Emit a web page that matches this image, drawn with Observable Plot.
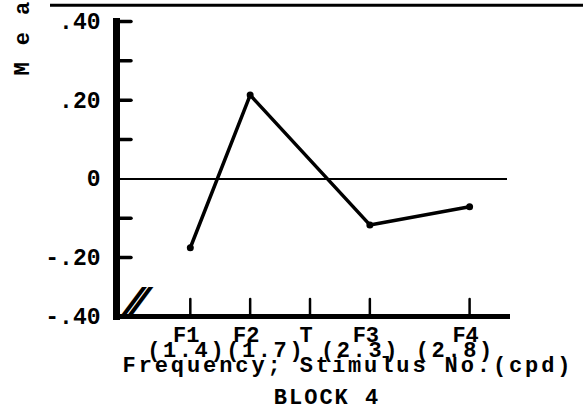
<!DOCTYPE html>
<html>
<head>
<meta charset="utf-8">
<script src="https://cdn.jsdelivr.net/npm/d3@7"></script>
<script src="https://cdn.jsdelivr.net/npm/@observablehq/plot@0.6"></script>
<style>
  html, body { margin: 0; padding: 0; background: #fff; }
  #chart svg { display: block; }
</style>
</head>
<body>
<div id="chart"></div>
<script>
// Stimulus positions (cpd) and names
const stimNames = ["F1", "F2", "T", "F3", "F4"];
const stimFreqs = [1.4, 1.7, 2.0, 2.3, 2.8];
// Cpd labels printed under the names
const cpdLabels = ["1.4", "1.7", "2.3", "2.8"];
// Plotted series (T has no point)
const seriesFreqs = [1.4, 1.7, 2.3, 2.8];
const seriesMeans = [-0.175, 0.213, -0.117, -0.071];
// Y tick values and labels
const yTickVals = [-0.4, -0.2, 0, 0.2, 0.4];
const yTickLabels = ["-.40", "-.20", "0", ".20", ".40"];
const yMinorTicks = [-0.2, -0.1, 0.1, 0.2, 0.3, 0.4];
// Remnant of the panel above (its bottom axis line)
const topRemnant = [0.441];
const yTitle = "Mean";
const xTitle = "Frequency; Stimulus No.(cpd)";
const blockTitle = "BLOCK 4";

const series = seriesFreqs.map((f, i) => ({freq: f, mean: seriesMeans[i]}));
const stims = stimFreqs.map((f, i) => ({freq: f, name: stimNames[i]}));
const cpdRow = `(${cpdLabels[0]})(${cpdLabels[1]}) (${cpdLabels[2]}) (${cpdLabels[3]})`;

// axis break below -.20: the segment -.20 .. -.40 is compressed
const breakAt = -0.2, breakFactor = 59 / 78.8;
const yTransform = (d) => (d < breakAt ? breakAt + (d - breakAt) * breakFactor : d);
const yTickPos = yTickVals.map(yTransform);

const font = "Liberation Mono, Courier New, monospace";
const FS = 22;

const chart = Plot.plot({
  width: 583,
  height: 417,
  marginLeft: 116,
  marginRight: 76,
  marginTop: 21,
  marginBottom: 101,
  style: {fontFamily: font, fontWeight: "bold", fontSize: FS + "px", color: "#000", background: "#fff"},
  x: {domain: [1.03, 2.99]},
  y: {transform: yTransform, domain: [yTransform(-0.4), 0.4]},
  marks: [
    Plot.ruleY(topRemnant, {stroke: "#000", strokeWidth: 3, insetLeft: -66, insetRight: -76, clip: false}),
    Plot.ruleY([0], {stroke: "#000", strokeWidth: 2}),
    Plot.frame({anchor: "left", stroke: "#000", strokeWidth: 7}),
    Plot.frame({anchor: "bottom", stroke: "#000", strokeWidth: 5}),
    Plot.axisY({ticks: yMinorTicks, tickSize: -15, tickFormat: () => "", label: null, strokeWidth: 3.5, strokeLinecap: "round"}),
    Plot.axisY({ticks: yTickPos, tickSize: 0, tickPadding: 16, label: null, tickFormat: (d) => yTickLabels[yTickPos.findIndex((v) => Math.abs(v - d) < 1e-9)], fontSize: FS + 1, fontWeight: "bold"}),
    Plot.axisX({ticks: stimFreqs, tickSize: -17, tickFormat: () => "", label: null, strokeWidth: 2.5, strokeLinecap: "round"}),
    Plot.text(stims, {x: "freq", frameAnchor: "bottom", text: "name", dy: 25, dx: -4, fontSize: FS, fontWeight: "bold"}),
    Plot.text([cpdRow], {frameAnchor: "bottom", text: (d) => d, dx: 9, dy: 40, fontSize: FS, fontWeight: "bold"}),
    Plot.text([xTitle], {frameAnchor: "bottom", text: (d) => d, dx: 36, dy: 55, fontSize: FS, fontWeight: "bold"}),
    Plot.text([blockTitle], {frameAnchor: "bottom", text: (d) => d, dx: 15, dy: 87, fontSize: FS, fontWeight: "bold"}),
    Plot.text(["//"], {frameAnchor: "bottom-left", text: (d) => d, dx: 2, dy: 2, fontSize: 44, fontWeight: "bold", fontStyle: "italic"}),
    Plot.text([yTitle], {frameAnchor: "top-left", text: (d) => d, rotate: -90, textAnchor: "start", lineAnchor: "middle", dx: -95, dy: 54, fontSize: 22, fontWeight: "bold"}),
    Plot.line(series, {x: "freq", y: "mean", stroke: "#000", strokeWidth: 3.5, strokeLinejoin: "round", strokeLinecap: "round"}),
    Plot.dot(series, {x: "freq", y: "mean", r: 3.5, fill: "#000"})
  ]
});

// letter spacing of the typewritten texts
const spacing = new Map([[xTitle, "2.9px"], [cpdRow, "2.6px"], [blockTitle, "2px"], [yTitle, "17px"], ["//", "-20px"]]);
d3.select(chart).selectAll("text").each(function () {
  const s = spacing.get(this.textContent);
  if (s) this.setAttribute("letter-spacing", s);
});
document.getElementById("chart").appendChild(chart);
</script>
</body>
</html>
